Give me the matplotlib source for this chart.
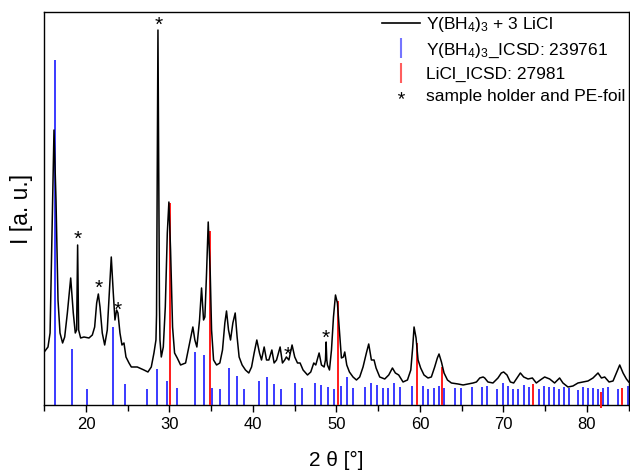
import matplotlib
matplotlib.use('Agg')
import matplotlib.pyplot as plt
from matplotlib.lines import Line2D
from matplotlib.ticker import MultipleLocator

plt.rcParams['font.family'] = ['Liberation Sans', 'DejaVu Sans']
plt.rcParams['mathtext.fontset'] = 'custom'
plt.rcParams['mathtext.rm'] = 'Liberation Sans'
plt.rcParams['mathtext.it'] = 'Liberation Sans:italic'
plt.rcParams['mathtext.default'] = 'regular'

two_theta = [15.0, 15.45, 15.7, 15.93, 16.17, 16.41, 16.65, 16.89, 17.2, 17.45, 17.77, 18.17,
             18.48, 18.72, 18.88, 19.0, 19.12, 19.36, 19.76, 20.36, 20.76, 21.04, 21.28, 21.48,
             21.68, 21.95, 22.24, 22.55, 22.79, 23.03, 23.27, 23.47, 23.67, 23.83, 24.07, 24.31,
             24.55, 24.79, 25.15, 25.43, 26.14, 26.94, 27.42, 27.82, 28.14, 28.38, 28.45, 28.55,
             28.62, 28.7, 28.8, 28.86, 29.02, 29.26, 29.5, 29.74, 29.93, 30.13, 30.37, 30.61,
             30.93, 31.33, 31.93, 32.24, 32.56, 32.8, 33.04, 33.28, 33.6, 33.84, 34.08, 34.24,
             34.44, 34.64, 34.88, 35.04, 35.28, 35.64, 36.03, 36.35, 36.63, 36.83, 37.07, 37.31,
             37.59, 37.87, 38.1, 38.34, 38.7, 39.1, 39.5, 39.83, 40.14, 40.46, 40.78, 41.02,
             41.34, 41.62, 41.9, 42.26, 42.53, 42.82, 43.25, 43.53, 43.8, 44.0, 44.3, 44.68,
             45.0, 45.33, 45.64, 46.0, 46.53, 46.92, 47.28, 47.52, 47.92, 48.2, 48.52, 48.68,
             48.76, 48.84, 48.92, 49.16, 49.4, 49.64, 49.88, 50.11, 50.35, 50.59, 50.83, 50.99,
             51.23, 51.55, 51.98, 52.39, 52.78, 53.18, 53.58, 53.86, 54.18, 54.5, 54.74, 55.18,
             55.78, 56.26, 56.7, 57.05, 57.45, 57.97, 58.5, 58.9, 59.13, 59.29, 59.53, 59.77,
             60.08, 60.48, 60.96, 61.36, 61.76, 62.08, 62.28, 62.57, 62.88, 63.29, 63.76, 64.56,
             65.16, 65.76, 66.36, 66.76, 67.16, 67.56, 67.75, 68.14, 68.74, 69.34, 69.74, 70.02,
             70.42, 70.82, 71.22, 71.62, 72.02, 72.42, 72.94, 73.46, 73.93, 74.41, 74.93, 75.53,
             76.12, 76.72, 77.12, 77.72, 78.32, 78.92, 79.52, 80.12, 80.72, 81.32, 81.73, 82.12,
             82.64, 83.12, 83.52, 83.92, 84.32, 84.72, 85.0]
intensity = [53, 58, 72, 172, 275, 205, 105, 72, 62, 68, 92, 127,
             92, 72, 75, 160, 75, 67, 68, 67, 70, 78, 102, 111,
             98, 72, 60, 75, 112, 148, 112, 85, 95, 92, 72, 60,
             62, 48, 42, 38, 38, 35, 33, 38, 52, 65, 90, 260,
             375, 250, 100, 65, 48, 58, 98, 172, 203, 155, 78, 52,
             47, 40, 42, 55, 68, 78, 65, 58, 85, 117, 85, 88,
             132, 183, 132, 75, 45, 40, 42, 55, 82, 94, 75, 65,
             82, 92, 68, 48, 40, 35, 32, 38, 52, 65, 52, 45,
             58, 45, 45, 55, 42, 45, 58, 42, 45, 48, 45, 60,
             48, 42, 42, 35, 30, 33, 42, 40, 52, 40, 38, 45,
             63, 45, 40, 35, 55, 88, 110, 102, 75, 47, 48, 53,
             40, 33, 28, 25, 28, 38, 52, 61, 45, 45, 37, 28,
             26, 30, 37, 32, 30, 23, 25, 35, 58, 78, 67, 45,
             37, 30, 27, 28, 38, 47, 51, 43, 32, 25, 22, 21,
             20, 21, 22, 23, 27, 28, 27, 23, 22, 27, 32, 33,
             30, 23, 22, 27, 32, 28, 26, 27, 22, 25, 28, 26,
             22, 27, 22, 18, 19, 22, 23, 24, 27, 32, 27, 28,
             23, 24, 32, 40, 32, 26, 23]

# Y(BH4)3 reference reflections (ICSD 239761)
ybh4_pos = [16.33, 18.29, 20.08, 23.19, 24.67, 27.26, 28.46, 29.69, 30.85, 33.04, 34.08, 35.12,
            36.07, 37.07, 38.03, 38.94, 40.74, 41.66, 42.5, 43.37, 45.01, 45.85, 47.4, 48.2,
            49.0, 49.71, 50.5, 51.23, 51.95, 53.42, 54.1, 54.86, 55.58, 56.22, 56.93, 57.65,
            59.0, 60.33, 61.0, 61.64, 62.28, 62.92, 64.24, 64.9, 66.18, 67.42, 68.06, 69.26,
            69.9, 70.54, 71.14, 71.79, 72.42, 73.0, 74.2, 74.8, 75.4, 76.0, 76.6, 77.2,
            77.8, 78.9, 79.55, 80.15, 80.75, 81.35, 81.9, 82.5, 83.7, 84.86]
ybh4_int = [345, 56, 16, 78, 21, 16, 36, 24, 17, 53, 50, 17,
            16, 37, 29, 16, 24, 28, 21, 16, 22, 17, 22, 20,
            18, 16, 19, 28, 17, 18, 22, 20, 17, 17, 22, 18,
            19, 19, 16, 17, 19, 17, 17, 17, 18, 18, 19, 16,
            22, 19, 16, 16, 20, 18, 16, 19, 18, 18, 16, 18,
            17, 15, 18, 17, 17, 16, 17, 18, 16, 19]

# LiCl reference reflections (ICSD 27981)
licl_pos = [30.05, 34.84, 50.15, 59.6, 62.6, 73.57, 81.7, 84.2]
licl_int = [202, 174, 104, 62, 38, 21, 13, 17]
licl_base = [0, 0, 0, 0, 0, 0, -3, 0]

# reflections from sample holder / PE foil
star_pos = [19.05, 21.48, 23.8, 28.65, 44.15, 48.75]
star_int = [166, 117, 95, 380, 50, 67]

blue = '#3a3aff'
red = '#ff1a1a'

fig = plt.figure(figsize=(6.3, 4.75), dpi=100)
ax = fig.add_axes([0.0702, 0.1474, 0.9278, 0.8273])

ax.vlines(ybh4_pos, 0, ybh4_int, color=blue, lw=1.4, zorder=2)
ax.vlines(licl_pos, licl_base, licl_int, color=red, lw=1.4, zorder=3, clip_on=False)
ax.plot(two_theta, intensity, color='black', lw=1.1, zorder=4)

for x, y in zip(star_pos, star_int):
    ax.text(x, y, '*', ha='center', va='center', fontsize=15, zorder=5)

ax.set_xlim(15, 85)
ax.set_ylim(0, 393)
ax.xaxis.set_major_locator(MultipleLocator(10))
ax.xaxis.set_minor_locator(MultipleLocator(5))
ax.tick_params(axis='x', which='both', direction='out', labelsize=12, width=1)
ax.tick_params(axis='x', which='major', length=5)
ax.tick_params(axis='x', which='minor', length=4)
ax.set_yticks([])
for s in ax.spines.values():
    s.set_linewidth(1.0)

ax.set_xlabel('2 θ [°]', fontsize=15, labelpad=14)
ax.set_ylabel('I [a. u.]', fontsize=16.5, labelpad=8)

handles = [
    Line2D([], [], color='black', lw=1.2),
    Line2D([], [], color=blue, marker='|', linestyle='None', markersize=14, mew=1.5, alpha=0.7),
    Line2D([], [], color=red, marker='|', linestyle='None', markersize=14, mew=1.5, alpha=0.7),
    Line2D([], [], color='black', marker='$*$', linestyle='None', markersize=5, mew=0),
]
labels = ['Y(BH$_4$)$_3$ + 3 LiCl', 'Y(BH$_4$)$_3$_ICSD: 239761',
          'LiCl_ICSD: 27981', 'sample holder and PE-foil']
ax.legend(handles, labels, loc='upper right', frameon=False, fontsize=12.5,
          handlelength=2.2, handletextpad=0.35, labelspacing=0.4,
          borderaxespad=0.05, borderpad=0.15)

fig.savefig('out.png', dpi=100)
